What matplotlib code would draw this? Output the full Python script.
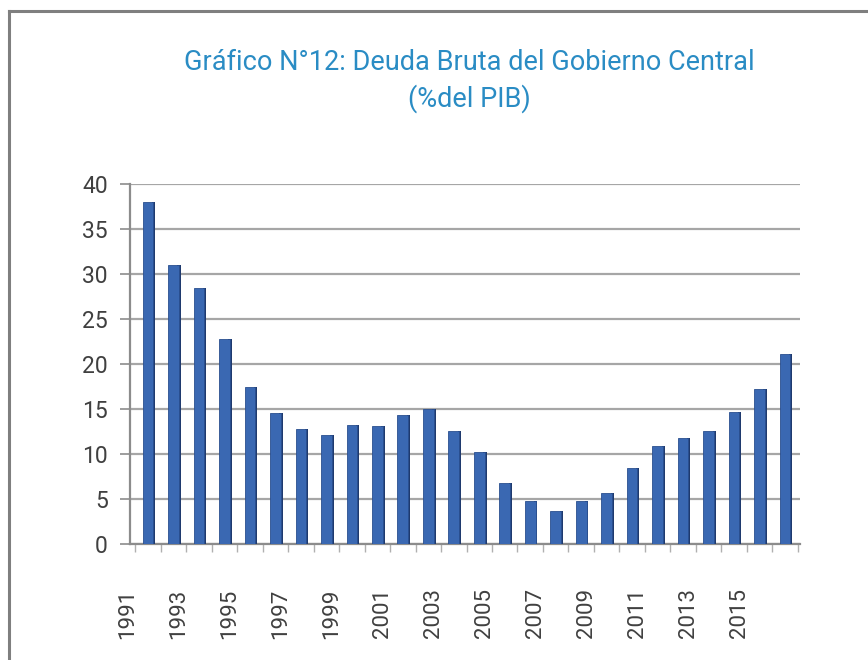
import matplotlib
matplotlib.use("Agg")
import matplotlib.pyplot as plt
import matplotlib.transforms as mtransforms
from matplotlib.lines import Line2D
import numpy as np

years = list(range(1991, 2017))
deuda = [38.0, 31.0, 28.4, 22.8, 17.4, 14.6, 12.8, 12.1, 13.2, 13.1, 14.3, 15.0, 12.5,
         10.2, 6.8, 4.8, 3.7, 4.8, 5.6, 8.4, 10.9, 11.8, 12.6, 14.7, 17.2, 21.1]
tick_labels = [str(y) if (y - 1991) % 2 == 0 else "" for y in years]

plt.rcParams['font.family'] = ['Roboto', 'DejaVu Sans']

fig = plt.figure(figsize=(8.68, 6.6), dpi=100)

# marco gris (solo arriba e izquierda, la imagen esta recortada)
fig.add_artist(Line2D([9 / 868, 9 / 868], [0, 1 - 11 / 660], transform=fig.transFigure,
                      color="#7f7f7f", lw=2.2))
fig.add_artist(Line2D([9 / 868, 1], [1 - 11 / 660, 1 - 11 / 660], transform=fig.transFigure,
                      color="#7f7f7f", lw=2.2))

ax = fig.add_axes([0.150, 0.176, 0.772, 0.545])
x = np.arange(len(years))

# cara lateral oscura + cara frontal
ax.bar(x + 0.22, deuda, width=0.13, color="#1f3a6e", zorder=3)
ax.bar(x, deuda, width=0.42, color="#3a68b2", edgecolor="#2a4f8f", linewidth=0.6, zorder=4)

ax.set_ylim(0, 40)
ax.set_xlim(-0.7, 25.6)
ax.set_yticks(range(0, 41, 5))
ax.yaxis.grid(True, color="#a6a6a6", lw=1.6, zorder=0)
ax.set_axisbelow(True)

for s in ["top", "right"]:
    ax.spines[s].set_visible(False)
for s in ["left", "bottom"]:
    ax.spines[s].set_color("#8c8c8c")
    ax.spines[s].set_linewidth(1.6)

ax.tick_params(axis="y", length=7, width=1.2, color="#8c8c8c", pad=9,
               labelsize=16.5, labelcolor="#404040")

ax.set_xticks(x)
ax.set_xticklabels(tick_labels, rotation=90, fontsize=16, color="#404040")
ax.tick_params(axis="x", which="major", length=0, pad=32)
ax.set_xticks(np.arange(-0.5, len(years), 1), minor=True)
ax.tick_params(axis="x", which="minor", length=6, width=1.0, color="#b0b0b0")

offset = mtransforms.ScaledTranslation(-0.2, 0, fig.dpi_scale_trans)
for lbl in ax.get_xticklabels():
    lbl.set_transform(lbl.get_transform() + offset)

fig.text(0.541, 0.877, "Gráfico N°12: Deuda Bruta del Gobierno Central\n(%del PIB)",
         ha="center", va="center", fontsize=19.5, color="#2a8cc4", linespacing=1.35)

fig.savefig("out.png", dpi=100, facecolor="white")
